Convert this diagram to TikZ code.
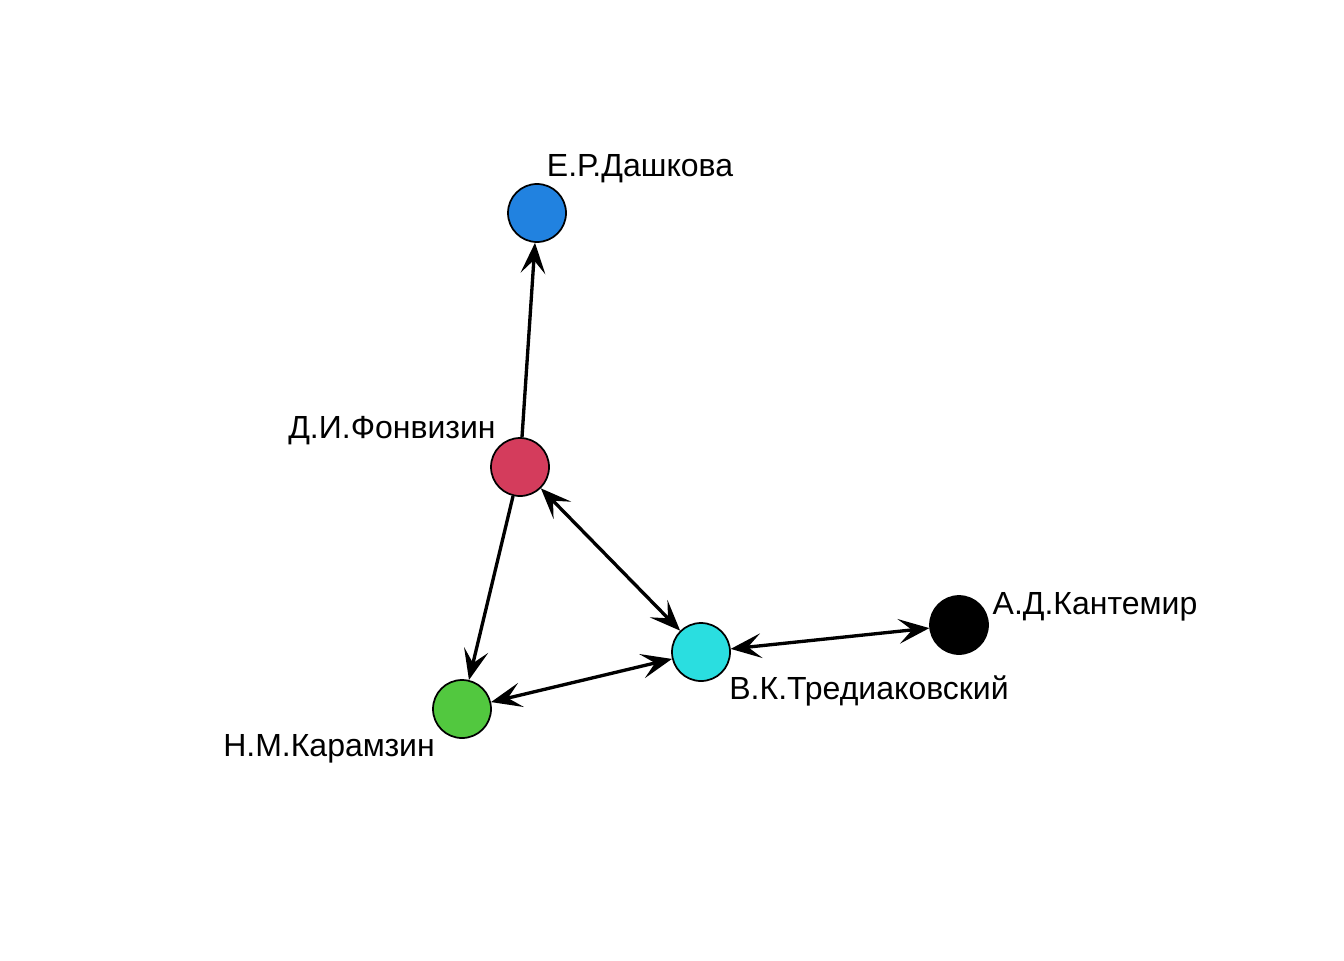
\documentclass[tikz,border=0pt]{standalone}
\usepackage{fontspec}
\setmainfont{Liberation Sans}
\usetikzlibrary{arrows.meta, positioning}
\tikzset{
  >={Stealth[length=23pt, width=18.5pt, inset=10pt]},
  vert/.style={circle, draw, line width=1.3pt, minimum size=43.5pt, inner sep=0pt},
  lbl/.style={font=\fontsize{24}{28}\selectfont, inner sep=0pt},
  link/.style={line width=2.5pt},
}
\definecolor{dblue}{RGB}{33,130,224}
\definecolor{dred}{RGB}{212,60,92}
\definecolor{dgreen}{RGB}{82,200,63}
\definecolor{dcyan}{RGB}{42,222,224}

\begin{document}
\begin{tikzpicture}[x=0.75pt, y=-0.75pt]
      \useasboundingbox (0,0) rectangle (1344,960);

      \node[vert, fill=dblue]  (dashkova)  at (537,213) {};
      \node[vert, fill=dred]   (fonvizin)  at (520,467) {};
      \node[vert, fill=dcyan]  (trediak)   at (701,652) {};
      \node[vert, fill=black]  (kantemir)  at (959,625) {};
      \node[vert, fill=dgreen] (karamzin)  at (462,709) {};

      \node[lbl] (l-dashkova) at (640,169) {Е.Р.Дашкова};
      \node[lbl] (l-fonvizin) at (392,431) {Д.И.Фонвизин};
      \node[lbl] (l-kantemir) at (1095,607) {А.Д.Кантемир};
      \node[lbl] (l-trediak)  at (869,691) {В.К.Тредиаковский};
      \node[lbl] (l-karamzin) at (329,749) {Н.М.Карамзин};

      \draw[link] (fonvizin) edge[->]  (dashkova)
                  (fonvizin) edge[->]  (karamzin)
                  (fonvizin) edge[<->] (trediak)
                  (karamzin) edge[<->] (trediak)
                  (trediak)  edge[<->] (kantemir);
\end{tikzpicture}
\end{document}
